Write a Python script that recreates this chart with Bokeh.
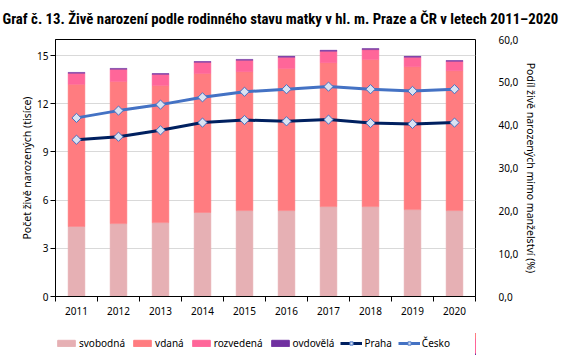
from bokeh.plotting import figure
from bokeh.models import (Range1d, LinearAxis, FixedTicker, Legend, LegendItem, Title, Grid)
from bokeh.layouts import column
from bokeh.embed import file_html
from bokeh.resources import INLINE

years = [2011, 2012, 2013, 2014, 2015, 2016, 2017, 2018, 2019, 2020]
year_labels = ["2011", "2012", "2013", "2014", "2015", "2016", "2017", "2018", "2019", "2020"]
svobodna = [4.36, 4.54, 4.60, 5.23, 5.35, 5.35, 5.60, 5.60, 5.41, 5.35]
vdana = [8.85, 8.84, 8.53, 8.65, 8.65, 8.84, 8.96, 9.15, 8.90, 8.71]
rozvedena = [0.69, 0.77, 0.70, 0.70, 0.71, 0.71, 0.71, 0.62, 0.59, 0.58]
ovdovela = [0.05, 0.05, 0.05, 0.05, 0.05, 0.05, 0.06, 0.07, 0.05, 0.05]
praha = [36.6, 37.3, 38.8, 40.6, 41.2, 40.9, 41.3, 40.5, 40.3, 40.6]
cesko = [41.7, 43.4, 44.8, 46.5, 47.8, 48.4, 49.0, 48.4, 48.0, 48.4]
left_ticks = [0, 3, 6, 9, 12, 15]
right_ticks = [0, 10, 20, 30, 40, 50, 60]
right_labels = ["0,0", "10,0", "20,0", "30,0", "40,0", "50,0", "60,0"]
title_text = "Graf č. 13. Živě narození podle rodinného stavu matky v hl. m. Praze a ČR v letech 2011–2020"

FONT = "Noto Sans"
TFONT = "'Liberation Sans Narrow', 'Roboto Condensed', 'DejaVu Sans Condensed', sans-serif"
TXT = "#000000"
bar_styles = [("svobodná", svobodna, "#E6B0B4"), ("vdaná", vdana, "#FF7C80"),
              ("rozvedená", rozvedena, "#FF6699"), ("ovdovělá", ovdovela, "#7030A0")]
line_styles = [("Praha", praha, "#002060"), ("Česko", cesko, "#4472C4")]

# ---- main chart
p = figure(frame_width=420, frame_height=257, output_backend="svg", toolbar_location=None,
           x_range=Range1d(2010.5, 2020.5), y_range=Range1d(0, 16),
           min_border_left=55, min_border_right=85, min_border_top=39, min_border_bottom=37,
           x_axis_location=None, y_axis_location=None)
p.extra_y_ranges = {"pct": Range1d(0, 60)}
p.outline_line_color = "black"
p.outline_line_width = 1
p.background_fill_color = "white"
p.border_fill_color = "white"

t = Title(text=title_text, text_font=TFONT, text_font_size="14.8px", text_font_style="bold",
          text_color=TXT, align="left", offset=-53, standoff=19, text_line_height=1.0,
          vertical_align="top")
p.add_layout(t, "above")

bottoms = [0.0] * len(years)
for name, vals, c in bar_styles:
    tops = [b + v for b, v in zip(bottoms, vals)]
    p.vbar(x=years, bottom=bottoms, top=tops, width=0.4, fill_color=c, line_color=c, line_width=0.5)
    bottoms = tops

for name, vals, c in line_styles:
    p.line(years, vals, line_color=c, line_width=3, y_range_name="pct")
    p.scatter(years, vals, marker="square", angle=0.785398, size=6.5, fill_color="#DAE3F3",
              line_color="#4472C4", line_width=1, y_range_name="pct")

xa = LinearAxis(ticker=FixedTicker(ticks=years, minor_ticks=[y - 0.5 for y in years] + [2020.5]))
xa.major_label_overrides = {y: lab for y, lab in zip(years, year_labels)}
xa.major_tick_line_color = None
xa.major_tick_out = 0
xa.major_tick_in = 0
xa.minor_tick_out = 5
xa.minor_tick_in = 0
xa.minor_tick_line_color = "black"
xa.axis_line_color = "black"
xa.major_label_standoff = 5
xa.major_label_text_font = FONT
xa.major_label_text_font_size = "10px"
xa.major_label_text_color = TXT
p.add_layout(xa, "below")

ya = LinearAxis(ticker=FixedTicker(ticks=left_ticks, minor_ticks=[]))
ya.axis_label = "Počet živě narozených (tisíce)"
ya.axis_label_text_font = FONT
ya.axis_label_text_font_size = "10.5px"
ya.axis_label_text_font_style = "normal"
ya.axis_label_text_color = TXT
ya.axis_label_standoff = 0
ya.major_tick_out = 5
ya.major_tick_in = 0
ya.minor_tick_line_color = None
ya.major_label_standoff = 2
ya.major_label_text_font = FONT
ya.major_label_text_font_size = "10px"
ya.major_label_text_color = TXT
p.add_layout(ya, "left")

ra = LinearAxis(y_range_name="pct", ticker=FixedTicker(ticks=right_ticks, minor_ticks=[]))
ra.major_label_overrides = {v: s for v, s in zip(right_ticks, right_labels)}
ra.axis_label = "Podíl živě narozených mimo manželství (%)"
ra.axis_label_text_font = FONT
ra.axis_label_text_font_size = "10.5px"
ra.axis_label_text_font_style = "normal"
ra.axis_label_text_color = TXT
ra.axis_label_standoff = 3
ra.axis_line_color = None
ra.major_tick_line_color = None
ra.major_tick_out = 0
ra.major_tick_in = 0
ra.minor_tick_line_color = None
ra.major_label_standoff = 23
ra.major_label_text_font = FONT
ra.major_label_text_font_size = "10px"
ra.major_label_text_color = TXT
p.add_layout(ra, "right")

p.ygrid.visible = False
p.xgrid.visible = False
p.add_layout(Grid(dimension=1, ticker=ya.ticker, grid_line_color="#D9D9D9", grid_line_width=1), "center")

# ---- legend strip: same series drawn outside its visible range, only the legend keys show
lf = figure(width=560, height=22, output_backend="svg", toolbar_location=None,
            x_range=Range1d(0, 1), y_range=Range1d(0, 1),
            min_border_left=0, min_border_right=0, min_border_top=0, min_border_bottom=0,
            x_axis_location=None, y_axis_location=None)
lf.outline_line_color = None
lf.grid.visible = False
lf.background_fill_color = "white"
lf.border_fill_color = "white"

items = []
for name, vals, c in bar_styles:
    r = lf.vbar(x=years, top=vals, width=0.4, fill_color=c, line_color=c)
    items.append(LegendItem(label=name, renderers=[r]))
for name, vals, c in line_styles:
    l = lf.line(years, vals, line_color=c, line_width=3)
    s = lf.scatter(years, vals, marker="square", angle=0.785398, size=6.5, fill_color="#DAE3F3",
                   line_color="#4472C4", line_width=1)
    items.append(LegendItem(label=name, renderers=[l, s]))
leg = Legend(items=items, orientation="horizontal", location=(0, 5),
             glyph_width=22, glyph_height=8, label_standoff=2, spacing=6,
             padding=0, margin=0, border_line_color=None, background_fill_alpha=0,
             label_text_font=FONT, label_text_font_size="10px", label_text_color=TXT,
             label_height=12)
lf.add_layout(leg, "center")

layout = column(p, lf, spacing=0)
open("out.html", "w").write(file_html(layout, INLINE))
